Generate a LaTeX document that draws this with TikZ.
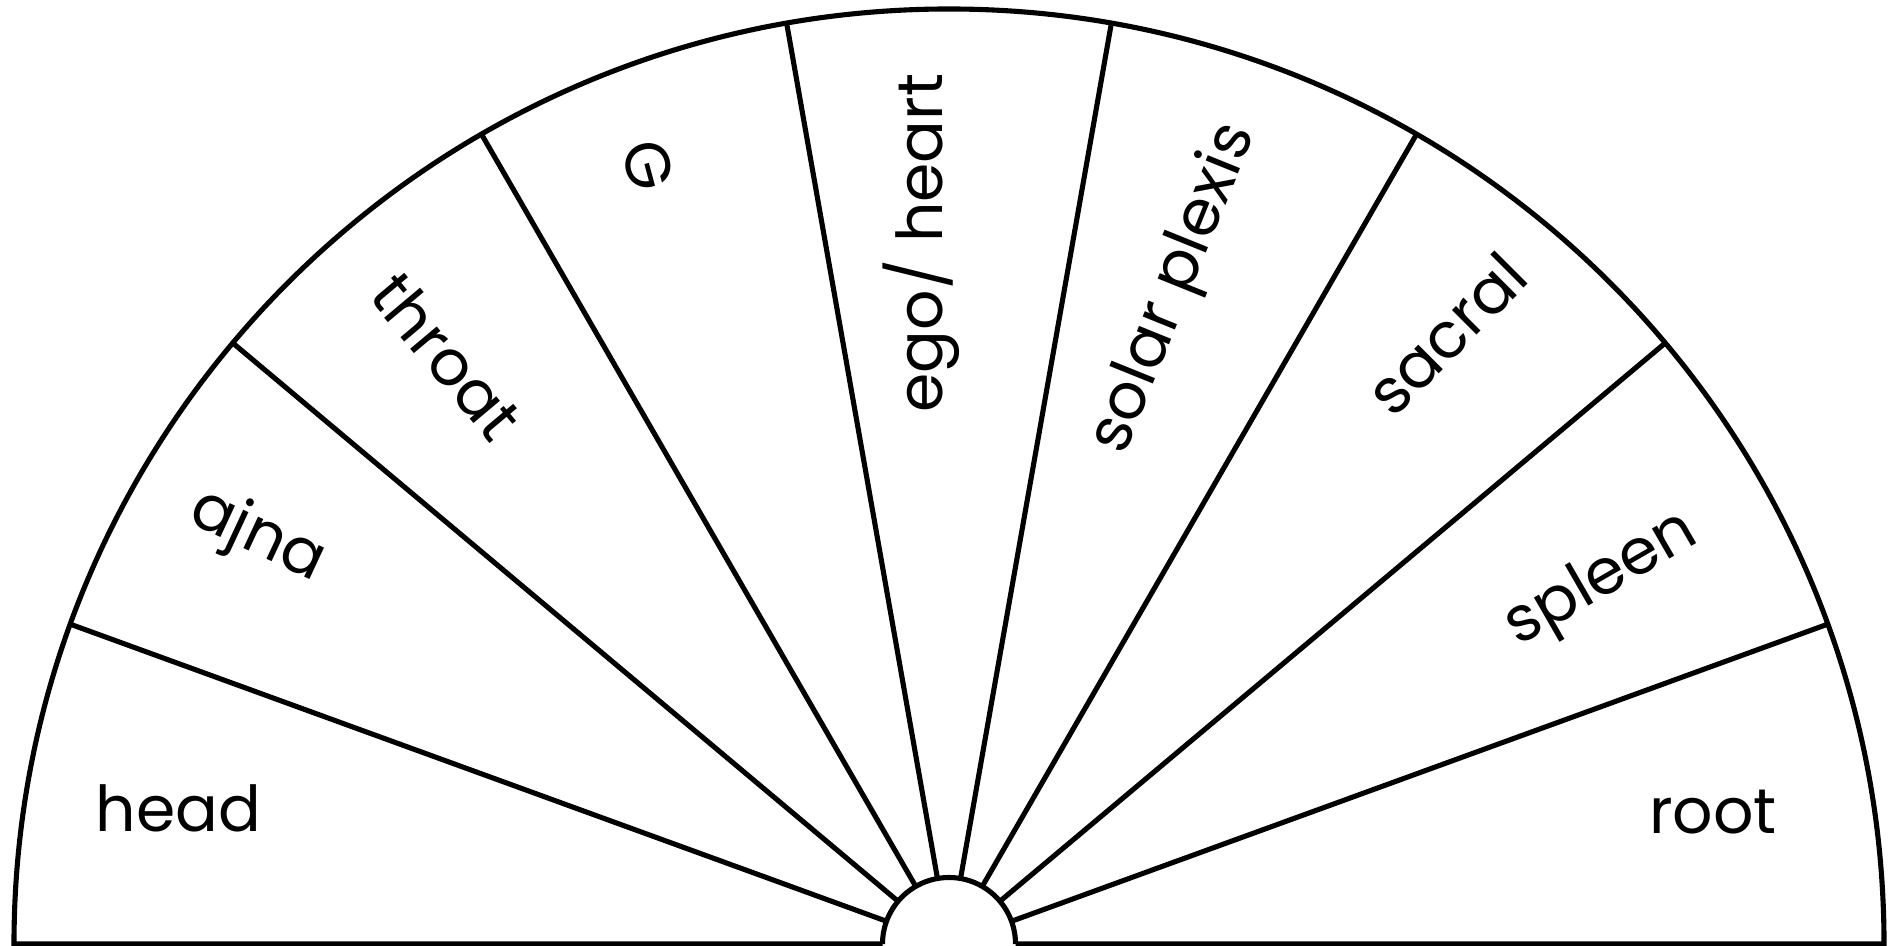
\documentclass[tikz,border=0pt]{standalone}
\usepackage{fontspec}
\setmainfont{Poppins}
\begin{document}
\begin{tikzpicture}[x=0.01cm, y=0.01cm, line width=1.45pt,
    etichetta/.style={font=\fontsize{18}{18}\selectfont, inner sep=0pt}]
    % Sfondo e riquadro
    \fill[white] (0,0) rectangle (1892,946);
    \useasboundingbox (0,0) rectangle (1892,946);
    % Centro del ventaglio
    \coordinate (C) at (949,2);
    % Bordo esterno e base
    \draw ([shift={(180:66.5)}]C) -- ([shift={(180:935)}]C)
      arc[start angle=180, end angle=0, radius=935] -- ([shift={(0:66.5)}]C);
    % Semicerchio interno
    \draw ([shift={(0:66.5)}]C) arc[start angle=0, end angle=180, radius=66.5];
    % Raggi dei settori
    \foreach \a in {20,40,...,160} {
      \draw ([shift={(\a:66.5)}]C) -- ([shift={(\a:935)}]C);
    }
    % Etichette
    \node[etichetta] (head) at (178.5,138) {head};
    \node[etichetta, rotate=-25] (ajna) at (257,409) {ajna};
    \node[etichetta, rotate=-50] (throat) at (447,590) {throat};
    \node[etichetta, rotate=-75] (g) at (648,780) {G};
    \node[etichetta, rotate=90] (ego) at (921.5,703) {ego/ heart};
    \node[etichetta, rotate=68] (solar) at (1175,657) {solar plexis};
    \node[etichetta, rotate=45] (sacral) at (1446,612) {sacral};
    \node[etichetta, rotate=30] (spleen) at (1602,365) {spleen};
    \node[etichetta] (root) at (1713,134) {root};
\end{tikzpicture}
\end{document}
